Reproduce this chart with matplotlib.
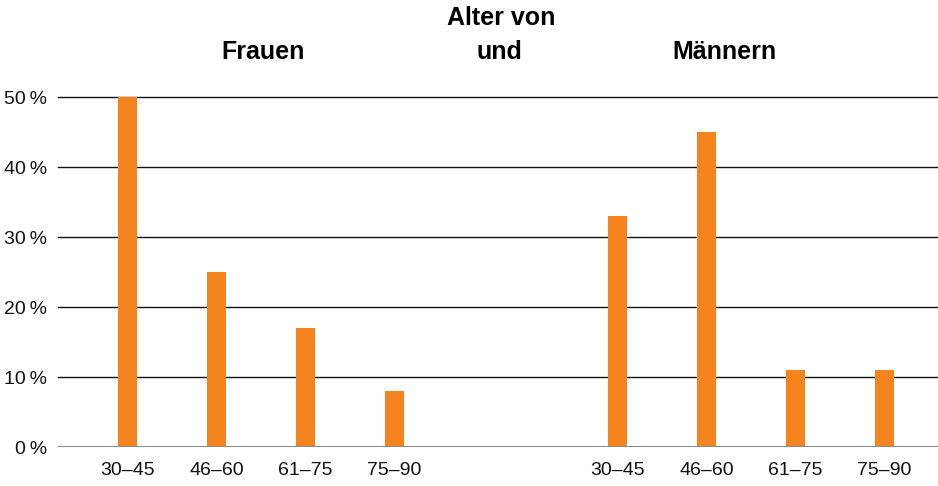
import numpy as np
import matplotlib
matplotlib.use("Agg")
import matplotlib.pyplot as plt

# --- data ---
age_groups = ["30–45", "46–60", "61–75", "75–90"]
frauen = [50, 25, 17, 8]
maenner = [33, 45, 11, 11]
y_ticks = [0, 10, 20, 30, 40, 50]

plt.rcParams['font.family'] = ['Liberation Sans', 'DejaVu Sans']

BAR = '#F5841F'

fig = plt.figure(figsize=(9.38, 4.86), dpi=100)
ax = fig.add_axes([58 / 938, 1 - 447 / 486, 880 / 938, 350 / 486])

x_f = np.arange(len(age_groups))
x_m = x_f + 5.5
ax.bar(x_f, frauen, width=0.21, color=BAR, zorder=3)
ax.bar(x_m, maenner, width=0.21, color=BAR, zorder=3)

ax.set_xlim(-0.78, 9.1)
ax.set_ylim(0, 50)

# horizontal rules
for v in y_ticks[1:]:
    ax.axhline(v, color='#111111', lw=1.0, zorder=2, clip_on=False)
ax.axhline(0, color='#8a8a8a', lw=2.2, zorder=4)

for s in ax.spines.values():
    s.set_visible(False)

ax.set_yticks(y_ticks)
ax.set_yticklabels([f"{v}\u2009%" for v in y_ticks], fontsize=14)
ax.set_xticks(np.concatenate([x_f, x_m]))
ax.set_xticklabels(age_groups + age_groups, fontsize=14)
ax.tick_params(axis='both', length=0, colors='#111111')
ax.tick_params(axis='y', pad=8)
ax.tick_params(axis='x', pad=11)

# headings
kw = dict(ha='center', va='center', fontsize=18, fontweight='bold')
fig.text(263 / 938, 1 - 52 / 486, "Frauen", **kw)
fig.text(501 / 938, 1 - 18 / 486, "Alter von", **kw)
fig.text(499 / 938, 1 - 52 / 486, "und", **kw)
fig.text(724 / 938, 1 - 52 / 486, "Männern", **kw)

fig.savefig("out.png", dpi=100)
